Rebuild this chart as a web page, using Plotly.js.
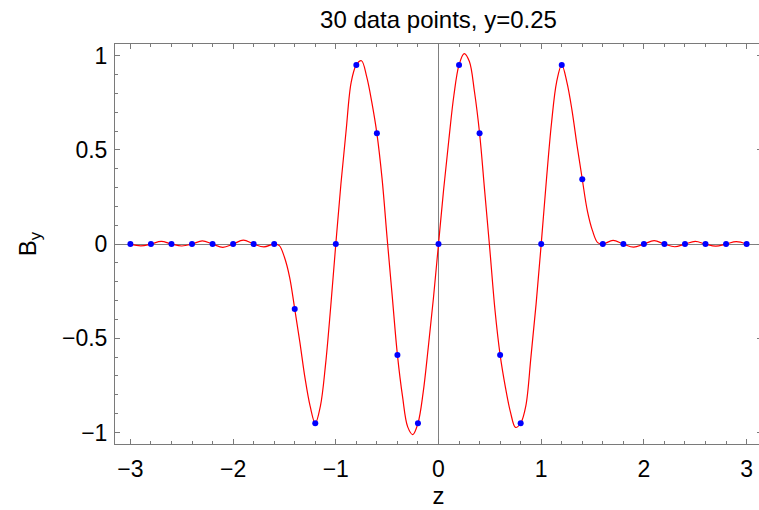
<!DOCTYPE html>
<html>
<head>
<meta charset="utf-8">
<script src="https://cdn.plot.ly/plotly-3.0.1.min.js"></script>
<style>
html,body{margin:0;padding:0;overflow:hidden;background:#fff;width:759px;height:510px;}
#plot{width:780px;height:510px;}
</style>
</head>
<body>
<div id="plot"></div>
<script>
// Sample points (blue dots)
const sampleZ = [-3.0,-2.8,-2.6,-2.4,-2.2,-2.0,-1.8,-1.6,-1.4,-1.2,-1.0,-0.8,-0.6,-0.4,-0.2,0.0,
                 0.2,0.4,0.6,0.8,1.0,1.2,1.4,1.6,1.8,2.0,2.2,2.4,2.6,2.8,3.0];
const sampleB = [0,0,0,0,0,0,0,0,-0.344,-0.951,0,0.951,0.588,-0.588,-0.951,0,
                 0.951,0.588,-0.588,-0.951,0,0.951,0.344,0,0,0,0,0,0,0,0];

// Red curve
const curveZ = [-3.0,-2.9,-2.8,-2.7,-2.6,-2.5,-2.4,-2.3,-2.2,-2.1,-2.0,-1.9,-1.8,-1.7,-1.6,
  -1.55,-1.5,-1.45,-1.4,-1.35,-1.3,-1.25,-1.2,-1.15,-1.1,-1.05,-1.0,
  -0.95,-0.9,-0.85,-0.8,-0.75,-0.7,-0.65,-0.6,-0.55,-0.5,-0.45,-0.4,-0.35,-0.3,-0.25,-0.2,-0.15,-0.1,-0.05,0.0,
  0.05,0.1,0.15,0.2,0.25,0.3,0.35,0.4,0.45,0.5,0.55,0.6,0.65,0.7,0.75,0.8,0.85,0.9,0.95,1.0,
  1.05,1.1,1.15,1.2,1.25,1.3,1.35,1.4,1.45,1.5,1.55,1.6,
  1.7,1.8,1.9,2.0,2.1,2.2,2.3,2.4,2.5,2.6,2.7,2.8,2.9,3.0];
const curveB = [0,-0.009,0,0.014,0,-0.010,0,0.017,0,-0.017,0,0.021,0,-0.015,0,
  -0.008,-0.07,-0.175,-0.344,-0.52,-0.71,-0.86,-0.951,-0.86,-0.64,-0.335,0,
  0.32,0.60,0.86,0.951,0.973,0.89,0.755,0.588,0.35,0.03,-0.28,-0.588,-0.81,-0.97,-1.011,-0.951,-0.79,-0.55,-0.29,0,
  0.29,0.55,0.79,0.951,1.011,0.97,0.81,0.588,0.28,-0.03,-0.35,-0.588,-0.755,-0.89,-0.973,-0.951,-0.86,-0.60,-0.32,0,
  0.335,0.64,0.86,0.951,0.86,0.71,0.52,0.344,0.175,0.07,0.008,0,
  0.02,0,-0.016,0,0.018,0,-0.014,0,0.014,0,-0.011,0,0.013,0];

const xTickVals = [-3,-2,-1,0,1,2,3];
const xTickText = ["\u22123","\u22122","\u22121","0","1","2","3"];
const yTickVals = [-1,-0.5,0,0.5,1];
const yTickText = ["\u22121","\u22120.5","0","0.5","1"];

const FONT = "Liberation Sans, Arial, sans-serif";
const frameColor = "#7a7a7a";

const traces = [
  {x: curveZ, y: curveB, mode: "lines", type: "scatter",
   line: {color: "#ff0000", width: 1.2, shape: "spline", smoothing: 1.0},
   hoverinfo: "skip", showlegend: false},
  {x: sampleZ, y: sampleB, mode: "markers", type: "scatter",
   marker: {color: "#0000ff", size: 6}, showlegend: false}
];

const layout = {
  width: 780, height: 510,
  margin: {l: 115, r: 18, t: 44, b: 66},
  paper_bgcolor: "#ffffff", plot_bgcolor: "#ffffff",
  font: {family: FONT, size: 23, color: "#000"},
  title: {text: "30 data points, y=0.25", x: 0.5, xref: "paper", xanchor: "center",
          y: 0.962, yref: "container", yanchor: "middle",
          font: {family: FONT, size: 24, color: "#000"}},
  xaxis: {
    range: [-3.15, 3.15], showgrid: false,
    zeroline: true, zerolinecolor: "#808080", zerolinewidth: 1,
    showline: true, linecolor: frameColor, linewidth: 1, mirror: "ticks",
    ticks: "inside", ticklen: 5, tickcolor: frameColor, tickwidth: 1,
    tickvals: xTickVals, ticktext: xTickText, ticklabelstandoff: 4,
    tickfont: {family: FONT, size: 23, color: "#000"},
    minor: {dtick: 0.2, tick0: 0, ticks: "inside", ticklen: 3, tickcolor: frameColor, showgrid: false},
    title: {text: "z", font: {family: FONT, size: 24, color: "#000"}, standoff: 4}
  },
  yaxis: {
    range: [-1.061, 1.062], showgrid: false,
    zeroline: true, zerolinecolor: "#808080", zerolinewidth: 1,
    showline: true, linecolor: frameColor, linewidth: 1, mirror: "ticks",
    ticks: "inside", ticklen: 5, tickcolor: frameColor, tickwidth: 1,
    tickvals: yTickVals, ticktext: yTickText, ticklabelstandoff: 2,
    tickfont: {family: FONT, size: 23, color: "#000"},
    minor: {dtick: 0.1, tick0: 0, ticks: "inside", ticklen: 3, tickcolor: frameColor, showgrid: false},
    title: {text: "B<sub>y</sub>", font: {family: FONT, size: 24, color: "#000"}, standoff: 18}
  }
};

Plotly.newPlot("plot", traces, layout, {displayModeBar: false, staticPlot: true});
</script>
</body>
</html>
